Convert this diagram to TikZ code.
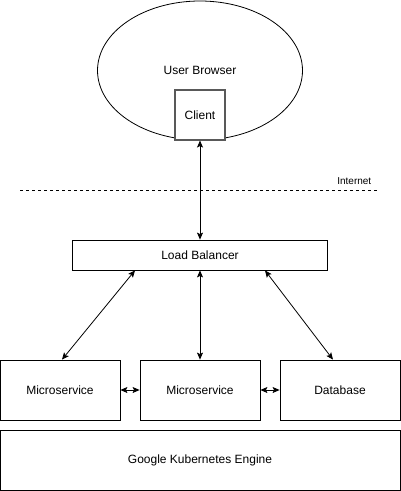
\documentclass[tikz,border=0pt]{standalone}
\usepackage{fontspec}
\setmainfont{Liberation Sans}
\usetikzlibrary{arrows.meta,shapes.geometric}
\begin{document}
\begin{tikzpicture}[x=1pt, y=-1pt, line width=0.8pt,
    {Stealth[length=7pt,width=6pt,inset=1.5pt]}-{Stealth[length=7pt,width=6pt,inset=1.5pt]},
    box/.style = {draw, rectangle, fill=white, inner sep=0pt, font=\fontsize{12}{14}\selectfont},
    oval/.style = {draw, ellipse, inner sep=0pt, font=\fontsize{12}{14}\selectfont}]
    \useasboundingbox (0,0) rectangle (401,491);

    \node[oval, minimum width=205pt, minimum height=139pt, text depth=-3pt] (browser) at (200,70.5) {User Browser};
    \node[box, minimum width=50pt, minimum height=50pt, line width=1.1pt, draw=black!65] (client) at (200,115) {Client};

    \draw[-, dashed] (20,190) -- (378,190);
    \node[font=\fontsize{10}{12}\selectfont, anchor=south east] (inet) at (375,188) {Internet};

    \node[box, minimum width=255pt, minimum height=30pt] (lb) at (200,255) {Load Balancer};
    \node[box, minimum width=120pt, minimum height=60pt] (ms1) at (60,390) {Microservice};
    \node[box, minimum width=120pt, minimum height=60pt] (ms2) at (200,390) {Microservice};
    \node[box, minimum width=120pt, minimum height=60pt] (db) at (340,390) {Database};
    \node[box, minimum width=400pt, minimum height=60pt] (gke) at (200,460) {Google Kubernetes Engine};

    \draw (client.south) -- (lb.north);
    \draw ([xshift=-65pt]lb.south) -- ([xshift=2pt]ms1.north);
    \draw (lb.south) -- (ms2.north);
    \draw ([xshift=65pt]lb.south) -- ([xshift=-7pt]db.north);
    \draw (ms1.east) -- (ms2.west);
    \draw (ms2.east) -- (db.west);
\end{tikzpicture}
\end{document}
